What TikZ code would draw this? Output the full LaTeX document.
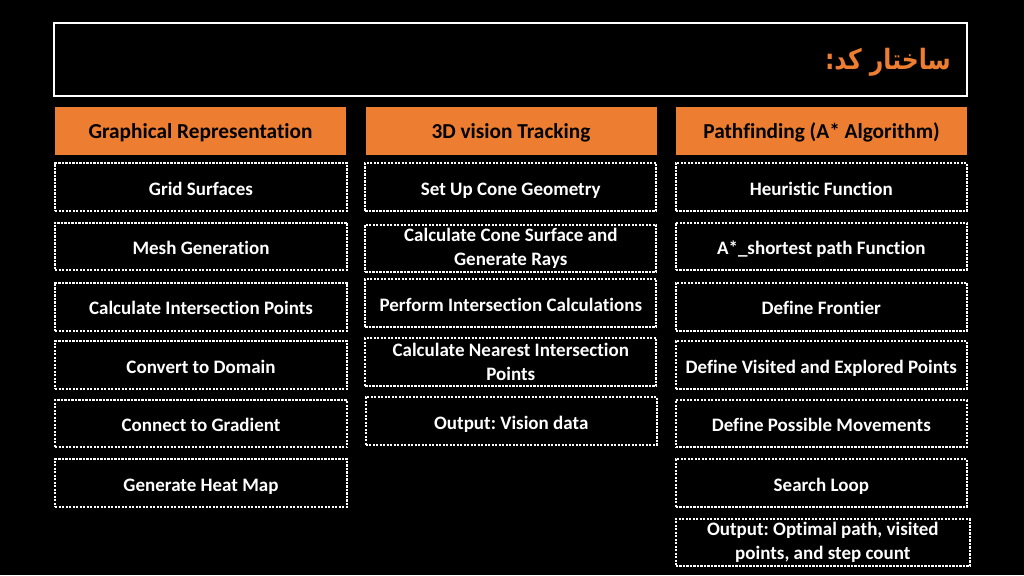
\documentclass[tikz,border=0pt]{standalone}
\usepackage{graphicx}
\usepackage{fontspec}
\setmainfont{Carlito}[Ligatures={NoCommon}]
\newfontfamily\arabicfont[Script=Arabic]{DejaVu Sans}
\TeXXeTstate=1
\frenchspacing
\definecolor{hdrorange}{HTML}{ED7D31}
\begin{document}
\begin{tikzpicture}[x=1pt,y=-1pt,
  hdrbox/.style={fill=hdrorange, draw=none, minimum width=291pt, minimum height=48pt,
    inner sep=0pt, font=\fontsize{21.3}{25}\selectfont\bfseries, text=black,
    text height=17pt, text depth=1pt},
  itembox/.style={draw=white, line width=2pt, dash pattern=on 2.2pt off 1.3pt,
    minimum width=292pt, minimum height=48pt, inner sep=0pt, align=center,
    font=\fontsize{19}{24}\selectfont\bfseries, text=white},
  oneline/.style={text height=17pt, text depth=1pt}]
  % page background
  \fill[black] (0,0) rectangle (1024,575);
  \useasboundingbox (0,0) rectangle (1024,575);

  % title banner
  \node[draw=white, line width=2.5pt, minimum width=913pt, minimum height=73pt, inner sep=0pt] (title) at (510.5,59.5) {};
  \node[anchor=east, text=hdrorange, inner sep=0pt] (titletext) at (951,62)
    {\scalebox{0.84}[1]{\fontsize{28}{32}\selectfont\arabicfont\bfseries\beginR ساختار کد:\endR}};

  % column headers
  \node[hdrbox] (h1) at (200.5,131) {Graphical Representation};
  \node[hdrbox] (h2) at (511,131) {3D vision Tracking};
  \node[hdrbox] (h3) at (821.5,131) {Pathfinding (A* Algorithm)};

  % graphical representation steps
  \node[itembox, oneline] (a1) at (201,187) {Grid Surfaces};
  \node[itembox, oneline, minimum height=47pt] (a2) at (201,246) {Mesh Generation};
  \node[itembox, oneline] (a3) at (201,306.5) {Calculate Intersection Points};
  \node[itembox, oneline] (a4) at (201,365) {Convert to Domain};
  \node[itembox, oneline, minimum height=47pt] (a5) at (201,423.7) {Connect to Gradient};
  \node[itembox, oneline] (a6) at (201,483) {Generate Heat Map};

  % vision tracking steps
  \node[itembox, oneline, minimum width=291pt] (b1) at (510.8,187) {Set Up Cone Geometry};
  \node[itembox, minimum width=291pt, minimum height=47pt] (b2) at (510.8,248) {Calculate Cone Surface and\\Generate Rays};
  \node[itembox, oneline, minimum width=291pt] (b3) at (510.8,303) {Perform Intersection Calculations};
  \node[itembox, minimum width=291pt] (b4) at (510.8,362) {Calculate Nearest Intersection\\Points};
  \node[itembox, oneline, minimum width=291pt] (b5) at (511.2,421) {Output: Vision data};

  % pathfinding steps
  \node[itembox, oneline, minimum width=291pt] (c1) at (821.3,187) {Heuristic Function};
  \node[itembox, oneline, minimum width=291pt, minimum height=47pt] (c2) at (821.3,246) {A*\_shortest path Function};
  \node[itembox, oneline, minimum width=291pt] (c3) at (821.3,306.5) {Define Frontier};
  \node[itembox, oneline, minimum width=291pt] (c4) at (821.3,365) {Define Visited and Explored Points};
  \node[itembox, oneline, minimum width=291pt, minimum height=47pt] (c5) at (821.3,423.7) {Define Possible Movements};
  \node[itembox, oneline, minimum width=291pt] (c6) at (821.3,483) {Search Loop};
  \node[itembox, minimum width=294pt, minimum height=47pt] (c7) at (822.8,542.5) {Output: Optimal path, visited\\points, and step count};
\end{tikzpicture}
\end{document}
